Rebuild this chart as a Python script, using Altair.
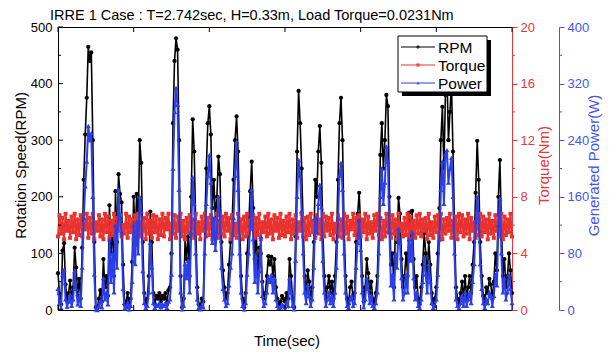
import altair as alt
import pandas as pd

TITLE = "IRRE 1 Case : T=2.742sec, H=0.33m, Load Torque=0.0231Nm"
X_TITLE = "Time(sec)"

time_s = list(range(0, 301))

rpm = [
    65, 28, 10, 105, 118, 45, 18, 30, 52, 20,
    40, 110, 75, 25, 55, 20, 110, 230, 310, 375,
    465, 440, 455, 300, 120, 5, 3, 20, 35, 15,
    90, 40, 60, 25, 185, 100, 150, 60, 210, 120,
    240, 205, 190, 80, 10, 15, 30, 5, 20, 85,
    200, 130, 205, 150, 300, 260, 120, 30, 10, 20,
    60, 174, 120, 30, 10, 25, 20, 30, 15, 25,
    20, 30, 10, 35, 40, 100, 330, 440, 480, 460,
    300, 60, 5, 20, 125, 90, 130, 60, 200, 337,
    280, 150, 40, 10, 5, 20, 15, 150, 250, 330,
    360, 310, 180, 230, 160, 200, 271, 240, 120, 70,
    40, 20, 30, 80, 120, 150, 230, 300, 342, 280,
    150, 60, 20, 5, 30, 100, 150, 210, 262, 180,
    90, 140, 60, 110, 100, 50, 20, 30, 60, 95,
    80, 94, 60, 90, 40, 20, 10, 15, 25, 20,
    15, 30, 20, 90, 60, 20, 5, 130, 280, 387,
    330, 250, 150, 60, 30, 70, 50, 20, 40, 120,
    230, 200, 280, 325, 260, 140, 60, 20, 40, 60,
    30, 50, 20, 60, 120, 230, 330, 375, 300, 150,
    60, 20, 10, 40, 50, 20, 30, 120, 170, 207,
    150, 60, 15, 40, 90, 65, 30, 50, 20, 10,
    30, 60, 150, 274, 330, 250, 300, 380, 360, 200,
    80, 100, 40, 150, 120, 198, 170, 90, 40, 60,
    100, 60, 172, 130, 175, 90, 40, 60, 20, 10,
    40, 80, 136, 100, 60, 120, 80, 30, 10, 20,
    40, 100, 180, 300, 359, 250, 380, 420, 300, 350,
    400, 280, 150, 40, 20, 10, 30, 50, 20, 60,
    20, 40, 60, 30, 80, 120, 207, 299, 230, 120,
    60, 25, 10, 40, 30, 55, 45, 20, 50, 100,
    70, 200, 265, 150, 60, 90, 40, 60, 100, 70,
    30,
]

torque = [
    5.2, 6.7, 5.4, 6.5, 5.0, 6.8, 5.6, 6.3, 5.1, 6.6,
    5.5, 6.8, 5.0, 6.4, 5.3, 6.7, 5.2, 6.1, 5.7, 6.8,
    5.1, 6.5, 5.4, 6.8, 5.0, 6.2, 5.6, 6.7, 5.2, 6.4,
    5.0, 6.8, 5.5, 6.6, 5.1, 6.3, 5.3, 6.8, 5.0, 6.5,
    5.6, 6.7, 5.2, 6.0, 5.4, 6.8, 5.1, 6.6, 5.5, 6.4,
    5.0, 6.7, 5.3, 6.8, 5.2, 6.2, 5.6, 6.5, 5.0, 6.8,
    5.4, 6.3, 5.1, 6.7, 5.5, 6.6, 5.0, 6.4, 5.3, 6.8,
    5.2, 6.5, 5.7, 6.8, 5.0, 6.1, 5.4, 6.7, 5.1, 6.6,
    5.6, 6.8, 5.2, 6.3, 5.0, 6.5, 5.5, 6.7, 5.3, 6.4,
    5.1, 6.8, 5.4, 6.2, 5.0, 6.6, 5.6, 6.8, 5.2, 6.5,
    5.3, 6.7, 5.0, 6.4, 5.5, 6.8, 5.1, 6.3, 5.4, 6.6,
    5.2, 6.8, 5.6, 6.5, 5.0, 6.7, 5.3, 6.1, 5.1, 6.8,
    5.5, 6.4, 5.0, 6.6, 5.2, 6.8, 5.4, 6.3, 5.7, 6.7,
    5.1, 6.5, 5.3, 6.8, 5.0, 6.2, 5.5, 6.6, 5.2, 6.8,
    5.4, 6.4, 5.0, 6.7, 5.6, 6.5, 5.1, 6.8, 5.3, 6.3,
    5.2, 6.6, 5.5, 6.8, 5.0, 6.4, 5.4, 6.7, 5.1, 6.2,
    5.6, 6.8, 5.2, 6.5, 5.0, 6.6, 5.3, 6.8, 5.5, 6.3,
    5.1, 6.7, 5.4, 6.4, 5.0, 6.8, 5.2, 6.6, 5.6, 6.5,
    5.3, 6.8, 5.0, 6.1, 5.5, 6.7, 5.2, 6.4, 5.1, 6.8,
    5.4, 6.6, 5.0, 6.3, 5.7, 6.8, 5.3, 6.5, 5.1, 6.7,
    5.2, 6.4, 5.5, 6.8, 5.0, 6.6, 5.4, 6.2, 5.1, 6.7,
    5.6, 6.8, 5.3, 6.5, 5.0, 6.3, 5.2, 6.8, 5.5, 6.6,
    5.1, 6.7, 5.4, 6.4, 5.0, 6.8, 5.6, 6.1, 5.2, 6.5,
    5.3, 6.8, 5.0, 6.6, 5.5, 6.3, 5.1, 6.7, 5.4, 6.8,
    5.2, 6.4, 5.6, 6.5, 5.0, 6.8, 5.3, 6.2, 5.1, 6.6,
    5.5, 6.7, 5.2, 6.8, 5.0, 6.4, 5.4, 6.5, 5.6, 6.8,
    5.1, 6.3, 5.3, 6.6, 5.0, 6.8, 5.5, 6.7, 5.2, 6.4,
    5.4, 6.8, 5.0, 6.5, 5.6, 6.2, 5.1, 6.7, 5.3, 6.8,
    5.2, 6.6, 5.5, 6.4, 5.0, 6.8, 5.4, 6.3, 5.1, 6.7,
    5.6, 6.5, 5.2, 6.8, 5.0, 6.6, 5.3, 6.4, 5.5, 6.8,
    5.2,
]

power = [
    30, 10, 3, 50, 57, 15, 5, 12, 22, 6,
    15, 55, 30, 8, 20, 6, 60, 130, 175, 210,
    260, 240, 250, 160, 50, 1, 0, 6, 12, 4,
    45, 15, 25, 8, 100, 40, 80, 25, 120, 60,
    170, 130, 110, 30, 2, 4, 10, 1, 6, 40,
    120, 65, 125, 80, 160, 140, 55, 10, 3, 6,
    25, 95, 60, 10, 3, 8, 6, 10, 4, 8,
    6, 10, 3, 12, 15, 50, 200, 280, 314, 290,
    170, 25, 1, 6, 65, 45, 70, 25, 110, 188,
    150, 80, 15, 3, 1, 6, 4, 80, 150, 190,
    219, 180, 95, 130, 85, 110, 160, 135, 60, 30,
    15, 6, 10, 35, 60, 80, 130, 190, 238, 170,
    80, 25, 6, 1, 10, 50, 80, 120, 170, 100,
    40, 75, 25, 55, 104, 20, 6, 10, 25, 45,
    40, 50, 25, 45, 15, 6, 3, 4, 8, 6,
    4, 10, 6, 45, 25, 6, 1, 70, 160, 212,
    190, 140, 80, 25, 10, 35, 20, 6, 15, 60,
    130, 110, 150, 177, 145, 70, 25, 6, 15, 25,
    10, 20, 6, 25, 60, 130, 190, 208, 170, 80,
    25, 6, 3, 15, 20, 6, 10, 60, 95, 127,
    85, 25, 4, 15, 45, 30, 10, 20, 6, 3,
    10, 25, 80, 160, 200, 150, 180, 231, 210, 110,
    35, 50, 15, 80, 60, 115, 95, 45, 15, 25,
    50, 25, 100, 70, 110, 45, 15, 25, 6, 3,
    15, 40, 75, 50, 25, 65, 40, 10, 3, 6,
    15, 50, 100, 170, 210, 150, 220, 226, 180, 200,
    215, 160, 80, 15, 6, 3, 10, 20, 6, 25,
    6, 15, 25, 10, 40, 65, 125, 160, 130, 65,
    30, 10, 3, 15, 10, 25, 20, 6, 20, 50,
    35, 120, 158, 80, 25, 45, 15, 25, 50, 30,
    10,
]

x_ticks = [0, 50, 100, 150, 200, 250, 300]
rpm_ticks = [0, 100, 200, 300, 400, 500]
rpm_minor = [50, 150, 250, 350, 450]
torque_ticks = [0, 4, 8, 12, 16, 20]
torque_minor = [2, 6, 10, 14, 18]
power_ticks = [0, 80, 160, 240, 320, 400]
power_minor = [40, 120, 200, 280, 360]

legend_names = ["RPM", "Torque", "Power"]

assert len(rpm) == len(time_s) == len(torque) == len(power)

df = pd.DataFrame({"t": time_s, "rpm": rpm, "torque": torque, "power": power})

W, H = 454, 283
FONT = "Liberation Sans"
RED = "#e8322e"
BLUE = "#2b3ee8"
RED_AX = "#e8383a"
BLUE_AX = "#4455ee"
BLUE_OFF = 47

x_scale = alt.Scale(domain=[0, 300], nice=False, zero=False)
x_enc = alt.X(
    "t:Q", scale=x_scale,
    axis=alt.Axis(values=x_ticks, ticks=False, labelPadding=6, title=None,
                  domainColor="black", labelColor="black"),
)

rpm_layer = alt.Chart(df).mark_line(
    color="black", strokeWidth=1.6,
    point=alt.OverlayMarkDef(filled=True, size=18, color="black", shape="circle"),
).encode(
    x=x_enc,
    y=alt.Y("rpm:Q", scale=alt.Scale(domain=[0, 500], nice=False),
            axis=alt.Axis(values=rpm_ticks, ticks=False, labelPadding=6,
                          title="Rotation Speed(RPM)", titleAngle=270,
                          titleX=-38, titleY=138, titleBaseline="middle", titleAlign="center",
                          domainColor="black", labelColor="black", titleColor="black")),
)

torque_layer = alt.Chart(df).mark_line(
    color=RED, strokeWidth=2.0,
    point=alt.OverlayMarkDef(filled=True, size=16, color=RED, shape="square"),
).encode(
    x=x_enc,
    y=alt.Y("torque:Q", scale=alt.Scale(domain=[0, 20], nice=False),
            axis=alt.Axis(orient="right", values=torque_ticks, tickSize=5, tickColor=RED_AX,
                          labelPadding=3, domainColor=RED_AX, labelColor=RED_AX,
                          title="Torque(Nm)", titleColor=RED_AX, titleAngle=270,
                          titleX=31, titleY=138, titleBaseline="middle", titleAlign="center")),
)

power_layer = alt.Chart(df).mark_line(
    color=BLUE, strokeWidth=2.0,
    point=alt.OverlayMarkDef(filled=True, size=26, color=BLUE, shape="triangle-up"),
).encode(
    x=x_enc,
    y=alt.Y("power:Q", scale=alt.Scale(domain=[0, 400], nice=False),
            axis=alt.Axis(orient="right", offset=BLUE_OFF, values=power_ticks, tickSize=5,
                          tickColor=BLUE_AX, labelPadding=3, domainColor=BLUE_AX,
                          labelColor=BLUE_AX, title="Generated Power(W)", titleColor=BLUE_AX,
                          titleAngle=270, titleX=34, titleY=138, titleBaseline="middle",
                          titleAlign="center")),
)


def tick_rules(values, domain, channel, p0, p1, color):
    d = pd.DataFrame({"v": values})
    if channel == "y":
        return alt.Chart(d).mark_rule(color=color, strokeWidth=1).encode(
            y=alt.Y("v:Q", scale=alt.Scale(domain=domain, nice=False), axis=None),
            x=alt.value(p0), x2=alt.value(p1))
    return alt.Chart(d).mark_rule(color=color, strokeWidth=1).encode(
        x=alt.X("v:Q", scale=x_scale, axis=None),
        y=alt.value(p0), y2=alt.value(p1))


ticks = [
    tick_rules(rpm_ticks, [0, 500], "y", 0, 5, "black"),
    tick_rules(rpm_minor, [0, 500], "y", 0, 3, "black"),
    tick_rules(x_ticks, None, "x", H, H - 5, "black"),
    tick_rules(x_ticks, None, "x", 0, 5, "black"),
    tick_rules(torque_minor, [0, 20], "y", W, W + 3, RED_AX),
    tick_rules(power_minor, [0, 400], "y", W + BLUE_OFF, W + BLUE_OFF + 3, BLUE_AX),
]

dummy = alt.Data(values=[{"a": 1}])

texts = [
    alt.Chart(dummy).mark_text(align="left", baseline="alphabetic", fontSize=14.5,
                               font=FONT, color="black").encode(
        x=alt.value(-8), y=alt.value(-7), text=alt.value(TITLE)),
    alt.Chart(dummy).mark_text(align="center", baseline="middle", fontSize=15,
                               font=FONT, color="black").encode(
        x=alt.value(229), y=alt.value(31 + H), text=alt.value(X_TITLE)),
]

legend_layers = [
    alt.Chart(dummy).mark_rect(color="black").encode(
        x=alt.value(344), x2=alt.value(433), y=alt.value(13), y2=alt.value(69)),
    alt.Chart(dummy).mark_rect(fill="white", stroke="black", strokeWidth=1).encode(
        x=alt.value(340), x2=alt.value(429), y=alt.value(9), y2=alt.value(65)),
]
for name, col, shp, yy in zip(legend_names, ["black", RED, BLUE],
                              ["circle", "square", "triangle-up"], [20, 38, 56]):
    legend_layers.append(alt.Chart(dummy).mark_rule(color=col, strokeWidth=1).encode(
        x=alt.value(343), x2=alt.value(377), y=alt.value(yy)))
    legend_layers.append(alt.Chart(dummy).mark_point(shape=shp, filled=True, size=12, color=col).encode(
        x=alt.value(360), y=alt.value(yy)))
    legend_layers.append(alt.Chart(dummy).mark_text(
        align="left", baseline="middle", fontSize=15.5, font=FONT, color="black").encode(
        x=alt.value(380), y=alt.value(yy + 1), text=alt.value(name)))

chart = alt.layer(
    rpm_layer, torque_layer, power_layer, *ticks, *texts, *legend_layers
).resolve_scale(y="independent").properties(
    width=W, height=H,
    padding={"left": 58, "top": 27, "right": 97, "bottom": 48},
    autosize=alt.AutoSizeParams(type="none"),
).configure_view(
    stroke="black", strokeWidth=1
).configure_axis(
    grid=False, labelFont=FONT, titleFont=FONT, labelFontSize=13, titleFontSize=15,
    titleFontWeight="normal", domainWidth=1
)

chart.save("out.html", embed_options={"renderer": "svg", "actions": False})
